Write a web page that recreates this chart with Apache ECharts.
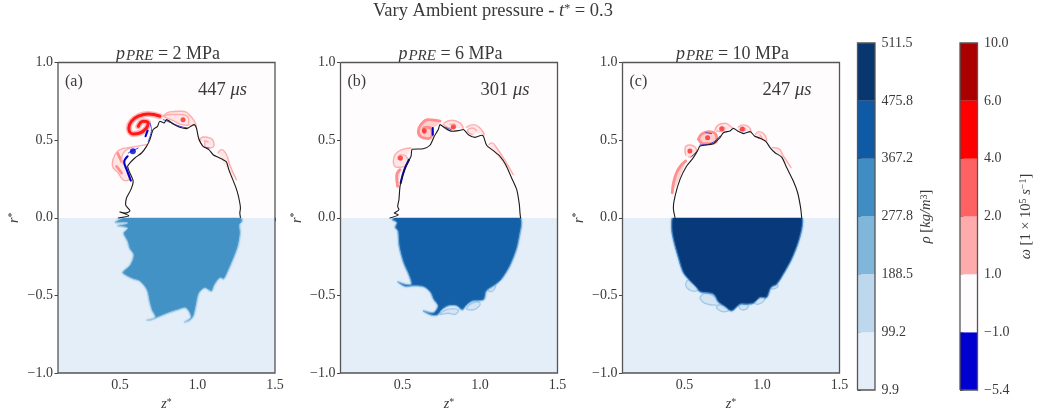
<!DOCTYPE html>
<html><head><meta charset="utf-8">
<script src="https://cdn.jsdelivr.net/npm/echarts@6/dist/echarts.min.js"></script>
<style>html,body{margin:0;padding:0;background:#fff}#c{width:1041px;height:412px}</style>
</head><body><div id="c"></div>
<script>
// ---- tick labels and categories
const zTicks=[0.5,1.0,1.5];
const rhoTicks=['9.9','99.2','188.5','277.8','367.2','475.8','511.5'];
const omegaTicks=['\u22125.4','\u22121.0','1.0','2.0','4.0','6.0','10.0'];
const rhoBands=['#e3eef9','#bdd7ec','#7fb6d9','#3f8dc3','#0f5aa5','#08376f'];
const omegaBands=['#0000d0','#fffcfe','#ffabab','#ff6262','#ff0000','#aa0000'];
const panelPressures=['2','6','10'];
const panelLetters=['(a)','(b)','(c)'];
const panelTimes=['447','301','247'];
const bgBoxes=[[[0.1,0],[1.5,1]],[[0.1,-1],[1.5,0]]];
const frameCorners=[[0.1,1],[1.5,1],[1.5,-1],[0.1,-1],[0.1,1]];

// ---- panel (a)
const aOutline=[[1.277,.002],[1.273,.03],[1.277,.062],[1.273,.095],[1.262,.148],[1.245,.202],[1.219,.267],[1.202,.31],[1.187,.359],[1.165,.374],[1.133,.389],[1.101,.406],[1.073,.439],[1.036,.46],[1.015,.492],[1.004,.525],[.993,.578],[.978,.6],[.957,.589],[.929,.574],[.886,.583],[.843,.604],[.8,.632],[.785,.611],[.757,.622],[.742,.589],[.714,.568],[.693,.503],[.671,.46],[.639,.417],[.596,.385],[.564,.353],[.549,.331],[.564,.288],[.585,.234],[.57,.181],[.542,.127],[.536,.084],[.564,.045],[.536,.03],[.499,.037],[.557,.013],[.489,-.002]];
const aDensity=[[1.273,.01],[1.29,-.019],[1.273,-.045],[1.277,-.099],[1.262,-.185],[1.23,-.271],[1.197,-.346],[1.17,-.396],[1.144,-.389],[1.111,-.432],[1.09,-.475],[1.047,-.454],[1.011,-.486],[.993,-.561],[.976,-.632],[.95,-.662],[.914,-.673],[.955,-.641],[.925,-.583],[.875,-.594],[.811,-.615],[.757,-.637],[.703,-.658],[.671,-.66],[.725,-.641],[.703,-.594],[.688,-.54],[.671,-.465],[.628,-.411],[.585,-.396],[.547,-.378],[.515,-.353],[.564,-.303],[.585,-.239],[.559,-.196],[.547,-.153],[.521,-.099],[.547,-.067],[.482,-.052],[.547,-.034],[.467,-.03],[.547,.01],[.8,.01],[1.1,.01]];
const aRed=[[[.757,.654],[.682,.669],[.618,.654],[.575,.622],[.557,.578],[.585,.54],[.628,.546],[.671,.578],[.682,.611],[.65,.622],[.618,.589]]];
const aPink=[[[.779,.654],[.821,.682],[.896,.686],[.957,.654],[.993,.589]],[[.789,.647],[.843,.626],[.897,.6],[.94,.596],[.944,.632],[.886,.665],[.821,.665],[.785,.652]],[[.671,.471],[.574,.454],[.5,.439],[.467,.406],[.45,.342],[.489,.288],[.532,.239],[.564,.26],[.542,.32],[.51,.374],[.521,.417],[.564,.449]],[[1.015,.497],[1.036,.52],[1.079,.514],[1.107,.471],[1.079,.449],[1.047,.467],[1.047,.497],[1.068,.488]],[[1.133,.417],[1.155,.439],[1.187,.406],[1.208,.342],[1.251,.245]]];
const aMid=[[[.484,.417],[.51,.363]],[[.478,.331],[.51,.288]]];
const aBlue=[[[.549,.396],[.527,.359],[.543,.31],[.57,.239]],[[.678,.561],[.665,.525]]];
const aBlueThin=[[[.553,.417],[.617,.449]],[[.693,.611],[.703,.568],[.682,.492]],[[.779,.632],[.832,.611],[.886,.589],[.935,.578]],[[1.011,.503],[1.036,.46],[1.073,.449]]];
const aBlueDots=[[.583,.428]];
const aRedDots=[[.907,.632]];
const aPale=[];

// ---- panel (b)
const bOutline=[[1.262,-.002],[1.258,.03],[1.254,.084],[1.237,.181],[1.204,.256],[1.166,.342],[1.129,.396],[1.086,.432],[1.043,.467],[1.022,.525],[1.011,.531],[.968,.518],[.925,.535],[.892,.568],[.86,.561],[.817,.557],[.774,.578],[.742,.6],[.731,.568],[.705,.525],[.677,.467],[.634,.445],[.563,.441],[.555,.396],[.527,.342],[.499,.267],[.484,.202],[.477,.116],[.469,.073],[.477,.052],[.447,.03],[.473,.019],[.419,-.002]];
const bDensity=[[1.254,.01],[1.269,-.03],[1.258,-.105],[1.237,-.202],[1.194,-.31],[1.14,-.396],[1.097,-.434],[1.043,-.471],[1.028,-.525],[1,-.535],[.951,-.538],[.914,-.563],[.886,-.594],[.849,-.568],[.796,-.568],[.753,-.594],[.727,-.626],[.688,-.628],[.634,-.6],[.699,-.611],[.727,-.568],[.699,-.525],[.677,-.477],[.634,-.445],[.57,-.439],[.516,-.443],[.469,-.413],[.516,-.428],[.555,-.428],[.542,-.374],[.505,-.288],[.477,-.181],[.469,-.084],[.452,-.062],[.462,-.03],[.434,-.013],[.462,.01],[.8,.01],[1.1,.01]];
const bRed=[];
const bPink=[[[.77,.611],[.817,.628],[.871,.611],[.892,.574]],[[.763,.604],[.806,.578],[.843,.583],[.834,.604],[.806,.6]],[[.914,.583],[.957,.6],[1,.578],[1.028,.535]],[[.951,.535],[.92,.561],[.951,.578],[.978,.561]],[[1.058,.471],[1.075,.482],[1.108,.449],[1.151,.385],[1.215,.277]],[[.555,.449],[.495,.439],[.452,.406],[.441,.363],[.469,.325],[.516,.331],[.533,.374],[.495,.406],[.469,.385],[.49,.368]]];
const bMid=[[[.469,.202],[.462,.267],[.484,.31]],[[.742,.622],[.667,.632],[.619,.6],[.602,.557],[.624,.518],[.667,.51],[.692,.546],[.667,.583],[.634,.574],[.641,.546]]];
const bBlue=[[[.695,.578],[.695,.535]],[[.542,.374],[.512,.31],[.488,.224]]];
const bBlueThin=[[[.774,.583],[.817,.566]]];
const bBlueDots=[];
const bRedDots=[[.641,.56],[.828,.585],[.487,.385]];
const bPale=[[[.742,-.622],[.796,-.589],[.86,-.594],[.839,-.622],[.796,-.615]],[[.914,-.585],[.951,-.55],[1,-.55],[.978,-.585],[.935,-.594]],[[1.049,-.465],[1.071,-.439],[1.101,-.434],[1.079,-.473]]];

// ---- panel (c)
const cOutline=[[1.256,0],[1.249,.065],[1.23,.161],[1.202,.237],[1.159,.323],[1.127,.391],[1.084,.419],[1.052,.452],[1.026,.49],[.987,.512],[.951,.527],[.923,.555],[.88,.542],[.843,.559],[.815,.576],[.794,.559],[.751,.548],[.729,.516],[.686,.477],[.6,.462],[.589,.441],[.557,.387],[.514,.333],[.471,.247],[.439,.14],[.428,.065],[.439,0]];
const cDensity=[[1.252,.01],[1.26,-.052],[1.234,-.159],[1.191,-.267],[1.138,-.363],[1.095,-.428],[1.058,-.449],[1.03,-.514],[.987,-.514],[.944,-.551],[.901,-.557],[.858,-.557],[.804,-.6],[.761,-.572],[.718,-.542],[.686,-.492],[.6,-.477],[.578,-.449],[.535,-.406],[.492,-.353],[.46,-.256],[.428,-.138],[.417,-.062],[.432,.01],[.8,.01],[1.1,.01]];
const cRed=[];
const cPink=[[[.697,.563],[.718,.598],[.761,.609],[.794,.591],[.811,.576]],[[.708,.559],[.744,.555],[.761,.576],[.74,.585]],[[.847,.585],[.88,.598],[.916,.585],[.929,.555]],[[.852,.57],[.873,.559],[.895,.57],[.873,.581]],[[.959,.538],[.981,.555],[1.015,.538],[1.03,.495]],[[.976,.512],[1.002,.512],[.987,.533]],[[.508,.404],[.503,.441],[.535,.469],[.568,.456],[.578,.43],[.557,.404],[.529,.391]],[[1.067,.452],[1.105,.447],[1.138,.398],[1.187,.323]]];
const cMid=[[[.421,.161],[.449,.29],[.508,.366]],[[.589,.505],[.611,.538],[.654,.555],[.697,.544],[.708,.505],[.675,.477],[.622,.477],[.596,.499]]];
const cBlue=[];
const cBlueThin=[[[.542,.391],[.572,.419]],[[.6,.469],[.654,.473],[.697,.495],[.729,.527]],[[.637,.548],[.675,.542]],[[.852,.555],[.886,.542]]];
const cBlueDots=[];
const cRedDots=[[.649,.516],[.74,.574],[.535,.43],[.873,.572]];
const cPale=[[[.508,-.428],[.525,-.4],[.563,-.417],[.585,-.465],[.546,-.471],[.514,-.449]],[[.6,-.514],[.632,-.486],[.686,-.503],[.74,-.551],[.697,-.563],[.632,-.551],[.606,-.529]],[[.708,-.572],[.751,-.563],[.787,-.589],[.751,-.606],[.714,-.589]],[[.852,-.568],[.89,-.551],[.912,-.572],[.873,-.594]],[[.951,-.542],[.998,-.51],[1.019,-.525],[.976,-.557]],[[1.058,-.449],[1.084,-.428],[1.105,-.439],[1.073,-.46]]];

const panels=[
 {left:58,outline:aOutline,density:aDensity,red:aRed,pink:aPink,mid:aMid,blue:aBlue,blueThin:aBlueThin,blueDots:aBlueDots,redDots:aRedDots,pale:aPale,fill:'#4292c6',halo:'#a9cfe8'},
 {left:340.5,outline:bOutline,density:bDensity,red:bRed,pink:bPink,mid:bMid,blue:bBlue,blueThin:bBlueThin,blueDots:bBlueDots,redDots:bRedDots,pale:bPale,fill:'#1460a8',halo:'#7fb3de'},
 {left:622.5,outline:cOutline,density:cDensity,red:cRed,pink:cPink,mid:cMid,blue:cBlue,blueThin:cBlueThin,blueDots:cBlueDots,redDots:cRedDots,pale:cPale,fill:'#08397a',halo:'#4a90cc'}
];

const FONT='"Liberation Serif"';
const TXT='#3a3a3a';
const grids=[],xAxes=[],yAxes=[],series=[],titles=[];
const N={fontWeight:'normal'};

function polygon(idx,pts,fill,stroke,sw,z,blur,smooth){
 series.push({type:'custom',xAxisIndex:idx,yAxisIndex:idx,z:z,silent:true,clip:true,data:[[0,0]],
  renderItem:(p,api)=>({type:'polygon',shape:{points:pts.map(q=>api.coord(q)),smooth:smooth||0},
   style:{fill:fill,stroke:stroke,lineWidth:sw,lineJoin:'round',shadowBlur:blur||0,shadowColor:stroke||'transparent'}})});
}
function box(idx,b,fill,z){
 series.push({type:'custom',xAxisIndex:idx,yAxisIndex:idx,z:z,silent:true,clip:false,data:[[0,0]],
  renderItem:(p,api)=>{const a=api.coord(b[0]),c=api.coord(b[1]);
   return {type:'rect',shape:{x:Math.min(a[0],c[0]),y:Math.min(a[1],c[1]),width:Math.abs(c[0]-a[0]),height:Math.abs(c[1]-a[1])},style:{fill:fill}};}});
}
function strokes(idx,list,color,w,z,smooth,op){
 list.forEach(d=>series.push({type:'line',xAxisIndex:idx,yAxisIndex:idx,z:z,data:d,showSymbol:false,silent:true,
  smooth:smooth,lineStyle:{color:color,width:w,cap:'round',join:'round',opacity:op==null?1:op},animation:false}));
}
function dots(idx,d,color,size,z){
 if(d.length) series.push({type:'scatter',xAxisIndex:idx,yAxisIndex:idx,z:z,data:d,symbolSize:size,silent:true,itemStyle:{color:color}});
}
function frame(idx,d,z){
 series.push({type:'line',xAxisIndex:idx,yAxisIndex:idx,z:z,data:d,showSymbol:false,silent:true,clip:false,
  lineStyle:{color:'#555',width:1.3,join:'miter'}});
}

const starRich={i:{fontFamily:FONT,fontStyle:'italic',fontSize:14,color:TXT},u:{fontFamily:FONT,fontSize:10,color:TXT,padding:[0,0,5,0]}};
panels.forEach((p,i)=>{
 grids.push({left:p.left,top:62.5,width:217,height:310.5,containLabel:false,outerBoundsMode:'none'});
 xAxes.push({type:'value',gridIndex:i,min:0.1,max:1.5,splitLine:{show:false},axisLine:{show:false},
  axisTick:{customValues:zTicks,length:3.5,lineStyle:{color:'#444'}},
  axisLabel:{customValues:zTicks,formatter:v=>v.toFixed(1),fontFamily:FONT,fontSize:14,color:TXT,margin:5},
  name:'{i|z}{u|*}',nameLocation:'middle',nameGap:22,nameTextStyle:{rich:starRich}});
 yAxes.push({type:'value',gridIndex:i,min:-1,max:1,interval:0.5,splitLine:{show:false},axisLine:{show:false},
  axisTick:{length:3.5,lineStyle:{color:'#444'}},
  axisLabel:{formatter:v=>v.toFixed(1).replace('-','\u2212'),fontFamily:FONT,fontSize:14,color:TXT,margin:5},
  name:'{i|r}{u|*}',nameLocation:'middle',nameGap:36,nameRotate:90,nameTextStyle:{rich:starRich}});
 box(i,bgBoxes[1],rhoBands[0],1);
 p.pale.forEach(d=>polygon(i,d,'#d3e4f4','#a3c9e8',1.3,2,0,0.5));
 polygon(i,p.density,p.fill,p.halo,0.9,2,1.5,0.3);
 box(i,bgBoxes[0],omegaBands[1],3);
 p.pink.forEach(d=>polygon(i,d,'#ffe6e6',null,0,4,0,0.5));
 p.mid.forEach(d=>polygon(i,d,'#ffd0d0',null,0,4,0,0.5));
 strokes(i,p.mid,'#ff8e8e',2.8,5,0.5);
 strokes(i,p.pink,'#ffacac',1.4,5,0.5);
 strokes(i,p.red,'#ffb4b4',6,5,0.5);
 strokes(i,p.red,'#ff1818',3,6,0.5);
 dots(i,p.redDots,'#ff2828',5,7);
 strokes(i,p.blueThin,'#3a3ae2',1,7,0.4);
 strokes(i,p.blue,'#0000d0',2.1,7,0.4);
 dots(i,p.blueDots,'#0000d0',6,7);
 strokes(i,[p.outline],'#1a1a1a',1.1,8,0.25);
 frame(i,frameCorners,9);
 const cx=p.left+105;
 titles.push({text:'{i|p}{s|PRE}{n| = '+panelPressures[i]+' MPa}',left:cx,top:39,textAlign:'center',
  textStyle:{rich:{i:{fontFamily:FONT,fontStyle:'italic',fontSize:18,color:TXT,...N},s:{fontFamily:FONT,fontStyle:'italic',fontSize:15,color:TXT,padding:[5,0,0,1],...N},n:{fontFamily:FONT,fontSize:18,color:TXT,...N}}}});
 titles.push({text:panelLetters[i],left:p.left+2,top:69,textStyle:{fontFamily:FONT,fontSize:16,fontWeight:'normal',color:TXT}});
 titles.push({text:'{n|'+panelTimes[i]+' }{i|\u03bcs}',left:p.left+135,top:76,
  textStyle:{rich:{n:{fontFamily:FONT,fontSize:18.5,color:TXT,...N},i:{fontFamily:FONT,fontStyle:'italic',fontSize:18.5,color:TXT,...N}}}});
});

titles.push({text:'{n|Vary Ambient pressure - }{i|t}{u|*}{n| = 0.3}',left:488,top:-3,textAlign:'center',
 textStyle:{rich:{n:{fontFamily:FONT,fontSize:18.5,color:TXT,...N},i:{fontFamily:FONT,fontStyle:'italic',fontSize:18.5,color:TXT,...N},u:{fontFamily:FONT,fontSize:12,color:TXT,padding:[0,0,5,0],...N}}}});

function colorbar(left,labels,bands,nameText,rich,gap){
 const i=grids.length;
 grids.push({left:left,top:43,width:17.5,height:347,outerBoundsMode:'none'});
 xAxes.push({type:'value',gridIndex:i,min:0,max:1,show:false});
 yAxes.push({type:'value',gridIndex:i,min:0,max:6,interval:1,position:'right',splitLine:{show:false},axisLine:{show:false},
  axisTick:{length:3.5,lineStyle:{color:'#444'}},
  axisLabel:{formatter:v=>labels[v],fontFamily:FONT,fontSize:14,color:TXT,margin:6.5},
  name:nameText,nameLocation:'middle',nameGap:gap,nameRotate:90,nameTextStyle:{rich:rich}});
 bands.forEach((c,k)=>box(i,[[0,k],[1,k+1]],c,1));
 frame(i,[[0,0],[1,0],[1,6],[0,6],[0,0]],3);
}
const cbRich={n:{fontFamily:FONT,fontSize:14.5,color:TXT},i:{fontFamily:FONT,fontStyle:'italic',fontSize:14.5,color:TXT},u:{fontFamily:FONT,fontSize:10,color:TXT,padding:[0,0,5,0]}};
colorbar(857.5,rhoTicks,rhoBands,'{i|\u03c1}{n| [}{i|kg/m}{u|3}{n|]}',cbRich,44);
colorbar(960,omegaTicks,omegaBands,'{i|\u03c9}{n| [1 \u00d7 10}{u|5}{n| }{i|s}{u|\u22121}{n|]}',cbRich,41);

const chart=echarts.init(document.getElementById('c'),null,{renderer:'canvas'});
chart.setOption({animation:false,backgroundColor:'#fff',title:titles,grid:grids,xAxis:xAxes,yAxis:yAxes,series:series});
</script></body></html>
